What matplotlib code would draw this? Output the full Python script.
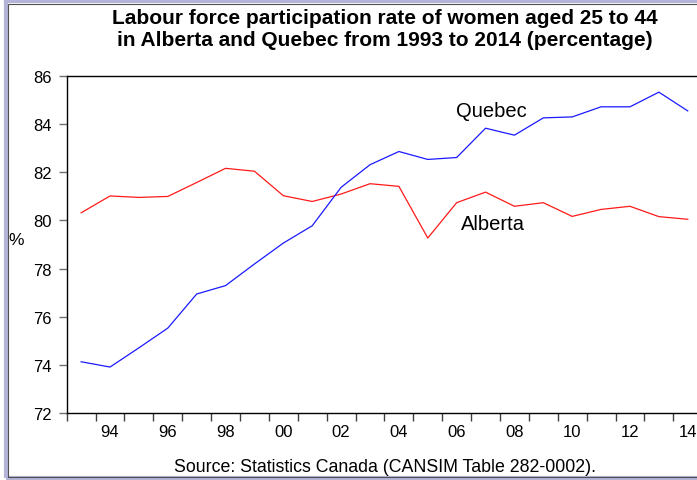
import matplotlib
matplotlib.use("Agg")
import matplotlib.pyplot as plt
from matplotlib.patches import Rectangle
from matplotlib.ticker import FixedLocator, FixedFormatter

plt.rcParams['font.family'] = ['Liberation Sans', 'DejaVu Sans']

years = list(range(1993, 2015))
alberta = [80.32, 81.02, 80.96, 81.0, 81.58, 82.17, 82.05, 81.03, 80.79, 81.1, 81.53,
           81.42, 79.27, 80.74, 81.18, 80.59, 80.74, 80.17, 80.46, 80.59, 80.16, 80.05]
quebec = [74.12, 73.9, 74.7, 75.52, 76.94, 77.29, 78.19, 79.06, 79.78, 81.38, 82.32,
          82.87, 82.54, 82.62, 83.84, 83.55, 84.27, 84.31, 84.73, 84.73, 85.34, 84.56]
xtick_labels = ['94', '96', '98', '00', '02', '04', '06', '08', '10', '12', '14']
yticks = [72, 74, 76, 78, 80, 82, 84, 86]

W, H = 697, 481
fig = plt.figure(figsize=(W / 100, H / 100), dpi=100)

# frame
fig.patches.append(Rectangle((6 / W, 2 / H), 1.0, 1 - 4 / H, transform=fig.transFigure,
                             fill=False, edgecolor='#b4b4d8', linewidth=3, zorder=0))
fig.patches.append(Rectangle((8 / W, 3.5 / H), 1.0, 1 - 8.5 / H, transform=fig.transFigure,
                             fill=False, edgecolor='#505050', linewidth=0.8, zorder=0))

left = 66.7 / W
bottom = (H - 413.7) / H
top = (H - 77.3) / H
ax = fig.add_axes([left, bottom, 1.0 - left, top - bottom])

idx = list(range(len(years)))
ax.plot(idx, alberta, color='#ff1a1a', linewidth=0.9)
ax.plot(idx, quebec, color='#1a1aff', linewidth=0.9)

x0 = 81.7
dx = 28.86
ax.set_xlim(-0.5, (697 - x0) / dx)
ax.set_ylim(72, 86)

ax.spines['right'].set_visible(False)
for s in ['left', 'top', 'bottom']:
    ax.spines[s].set_linewidth(1.0)
    ax.spines[s].set_color('black')

ax.set_yticks(yticks)
ax.set_yticklabels([str(v) for v in yticks])
ax.tick_params(axis='y', direction='out', length=6, width=1, color='#707070',
               labelsize=12, pad=5)

lab_pos = [years.index(1994 + 2 * i) for i in range(len(xtick_labels))]
ax.xaxis.set_major_locator(FixedLocator(lab_pos))
ax.xaxis.set_major_formatter(FixedFormatter(xtick_labels))
ax.xaxis.set_minor_locator(FixedLocator([i - 0.5 for i in range(len(years) + 1)]))
ax.tick_params(axis='x', which='major', length=0, labelsize=12, pad=8)
ax.tick_params(axis='x', which='minor', direction='out', length=6, width=1, color='#404040')

ax.text((491.8 - x0) / dx, 84.56, 'Quebec', ha='center', va='center', fontsize=14.5)
ax.text((493 - x0) / dx, 79.88, 'Alberta', ha='center', va='center', fontsize=14.5)

fig.text(16 / W, 1 - 241 / H, '%', ha='center', va='center', fontsize=12.5)

fig.text(385 / W, 1 - 19 / H, 'Labour force participation rate of women aged 25 to 44',
         ha='center', va='center', fontsize=15, fontweight='bold')
fig.text(385 / W, 1 - 41 / H, 'in Alberta and Quebec from 1993 to 2014 (percentage)',
         ha='center', va='center', fontsize=15, fontweight='bold')
fig.text(385 / W, 1 - 468 / H, 'Source: Statistics Canada (CANSIM Table 282-0002).',
         ha='center', va='center', fontsize=12.8)

fig.savefig('out.png', dpi=100)
